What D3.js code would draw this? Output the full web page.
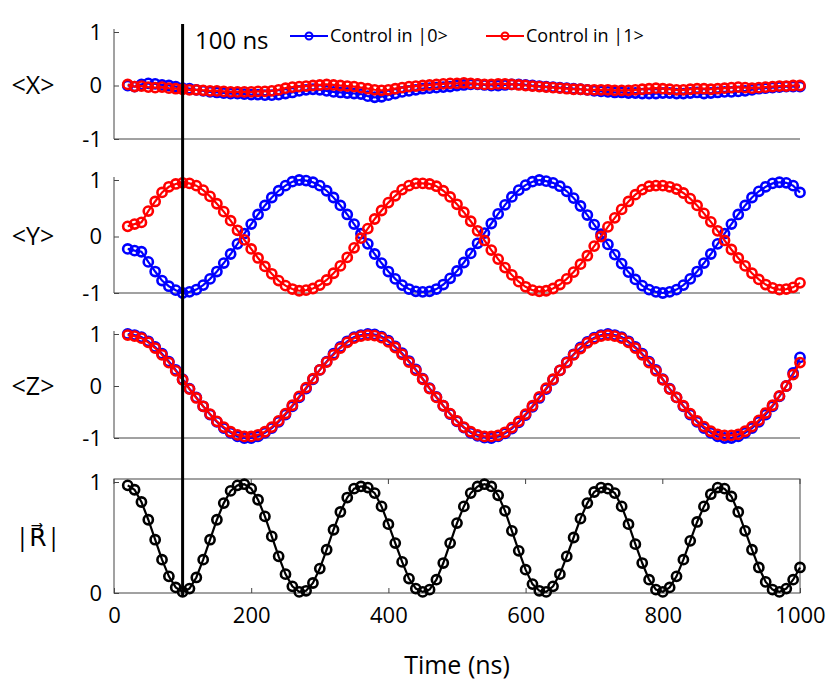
<!DOCTYPE html>
<html><head><meta charset="utf-8">
<script src="https://cdn.jsdelivr.net/npm/d3@7"></script>
<style>body{margin:0;background:#fff}text{font-family:"Open Sans","DejaVu Sans",sans-serif}</style>
</head><body><svg id="c" width="831" height="690"></svg>
<script>
const times = d3.range(20, 1001, 10);
const xBlue = [0,-0.02,0.02,0.04,0.03,0.01,0,-0.02,-0.05,-0.06,-0.08,-0.1,-0.12,-0.13,-0.14,-0.15,-0.15,-0.16,-0.17,-0.17,-0.18,-0.18,-0.17,-0.15,-0.13,-0.1,-0.08,-0.07,-0.08,-0.1,-0.12,-0.13,-0.14,-0.15,-0.16,-0.2,-0.22,-0.21,-0.18,-0.15,-0.12,-0.1,-0.08,-0.06,-0.05,-0.04,-0.03,-0.02,0,0.01,0.02,0.02,0.01,0,0,0.01,0.02,0.02,0.01,0,-0.01,-0.02,-0.03,-0.04,-0.05,-0.06,-0.07,-0.08,-0.1,-0.11,-0.12,-0.13,-0.13,-0.14,-0.14,-0.15,-0.15,-0.15,-0.14,-0.14,-0.15,-0.15,-0.14,-0.13,-0.15,-0.14,-0.13,-0.12,-0.12,-0.11,-0.1,-0.08,-0.06,-0.05,-0.04,-0.03,-0.02,-0.02,-0.02];
const xRed = [0.02,-0.02,-0.01,-0.03,-0.04,-0.03,-0.05,-0.06,-0.07,-0.08,-0.08,-0.09,-0.1,-0.1,-0.11,-0.12,-0.12,-0.12,-0.12,-0.11,-0.11,-0.1,-0.08,-0.05,-0.03,-0.02,-0.01,0,0.01,0.02,0.01,0,-0.01,-0.02,-0.04,-0.06,-0.08,-0.09,-0.08,-0.06,-0.04,-0.02,-0.01,0,0.01,0.02,0.03,0.04,0.04,0.05,0.04,0.03,0.02,0.02,0.03,0.03,0.02,0.01,0,-0.01,-0.02,-0.03,-0.04,-0.05,-0.06,-0.07,-0.07,-0.08,-0.08,-0.08,-0.08,-0.09,-0.09,-0.09,-0.08,-0.07,-0.06,-0.05,-0.06,-0.07,-0.08,-0.08,-0.07,-0.06,-0.06,-0.07,-0.06,-0.05,-0.04,-0.03,-0.04,-0.05,-0.04,-0.03,-0.02,-0.01,-0.01,0,0];
const yBlue = [-0.22,-0.25,-0.27,-0.45,-0.62,-0.78,-0.88,-0.95,
-1,-0.98,-0.94,-0.86,-0.75,-0.62,-0.47,-0.31,-0.13,0.05,0.22,0.39,0.55,0.69,0.81,0.9,0.97,1,0.99,0.96,0.9,0.81,0.69,0.55,0.39,0.22,0.05,-0.13,-0.31,-0.47,-0.62,-0.75,-0.86,-0.93,-0.97,
-0.98,-0.97,-0.93,-0.85,-0.74,-0.61,-0.46,-0.3,-0.12,0.06,0.23,0.4,0.56,0.7,0.82,0.91,0.97,1,0.98,0.95,0.89,0.8,0.68,0.54,0.38,0.21,0.04,-0.14,-0.32,-0.48,-0.63,-0.76,-0.87,-0.94,-0.98,
-1,-0.98,-0.94,-0.86,-0.75,-0.62,-0.47,-0.31,-0.13,0.05,0.22,0.39,0.55,0.69,0.8,0.88,0.94,0.96,0.95,0.9,0.78];
const yRed = [0.18,0.22,0.25,0.45,0.62,0.78,0.88,0.93,
0.95,0.94,0.9,0.82,0.71,0.58,0.44,0.28,0.11,-0.06,-0.22,-0.38,-0.53,-0.66,-0.78,-0.87,-0.93,-0.96,-0.95,-0.92,-0.86,-0.77,-0.65,-0.52,-0.37,-0.2,-0.03,0.14,0.31,0.46,0.6,0.72,0.83,0.9,0.94,
0.94,0.93,0.89,0.81,0.7,0.57,0.43,0.27,0.1,-0.07,-0.24,-0.4,-0.55,-0.68,-0.8,-0.89,-0.95,-0.97,-0.96,-0.92,-0.85,-0.75,-0.63,-0.49,-0.34,-0.17,0,0.17,0.33,0.48,0.62,0.74,0.83,0.89,0.9,
0.9,0.88,0.84,0.77,0.67,0.55,0.41,0.26,0.1,-0.07,-0.23,-0.38,-0.52,-0.65,-0.76,-0.85,-0.91,-0.94,-0.93,-0.9,-0.82];
const zBlue = [1,0.98,0.94,0.86,0.75,0.62,0.47,0.31,0.13,-0.05,-0.22,-0.39,-0.55,-0.69,-0.81,-0.9,-0.97,-1,-1,-0.97,-0.9,-0.81,-0.69,-0.55,-0.39,-0.22,-0.05,0.13,0.31,0.47,0.62,0.75,0.86,0.94,0.98,
1,0.99,0.95,0.87,0.76,0.63,0.48,0.32,0.14,-0.04,-0.21,-0.38,-0.54,-0.68,-0.8,-0.9,-0.96,-0.99,-1,-0.97,-0.91,-0.82,-0.7,-0.56,-0.4,-0.23,-0.06,0.12,0.3,0.46,0.61,0.74,0.85,0.93,0.98,
1,0.98,0.94,0.86,0.75,0.62,0.47,0.31,0.13,-0.05,-0.22,-0.39,-0.55,-0.69,-0.81,-0.9,-0.97,-1,-1,-0.97,-0.9,-0.81,-0.69,-0.55,-0.39,-0.2,0.0,0.25,0.55];
const zRed = [0.98,0.96,0.92,0.84,0.73,0.6,0.45,0.29,0.12,-0.06,-0.23,-0.39,-0.54,-0.68,-0.79,-0.88,-0.94,-0.97,-0.97,-0.94,-0.88,-0.79,-0.67,-0.53,-0.37,-0.2,-0.03,0.14,0.31,0.46,0.6,0.73,0.84,0.92,0.96,
0.98,0.97,0.93,0.85,0.74,0.61,0.46,0.3,0.13,-0.05,-0.22,-0.38,-0.53,-0.67,-0.79,-0.88,-0.94,-0.97,-0.97,-0.95,-0.89,-0.8,-0.68,-0.54,-0.38,-0.21,-0.04,0.13,0.3,0.45,0.6,0.72,0.83,0.91,0.96,
0.98,0.96,0.92,0.84,0.73,0.6,0.45,0.29,0.12,-0.06,-0.22,-0.38,-0.53,-0.67,-0.78,-0.87,-0.93,-0.95,-0.95,-0.93,-0.87,-0.78,-0.66,-0.52,-0.37,-0.19,0.0,0.22,0.45];
const rVals = [0.97,0.93,0.82,0.66,0.48,0.3,0.15,0.05,0.01,
0.04,0.14,0.3,0.48,0.66,0.81,0.92,0.97,0.98,
0.94,0.84,0.69,0.51,0.33,0.17,0.06,0.01,0.02,
0.09,0.22,0.39,0.57,0.73,0.86,0.94,0.96,0.95,
0.9,0.78,0.62,0.45,0.28,0.13,0.04,0.01,0.03,
0.12,0.27,0.45,0.63,0.78,0.9,0.96,0.98,0.96,
0.88,0.74,0.56,0.38,0.21,0.08,0.02,0.01,0.06,
0.17,0.33,0.5,0.67,0.81,0.91,0.95,0.94,0.9,
0.78,0.62,0.44,0.27,0.12,0.03,0.01,0.05,0.15,
0.3,0.47,0.64,0.78,0.89,0.95,0.94,0.87,0.73,
0.56,0.39,0.23,0.1,0.03,0.01,0.04,0.12,0.23];
const xTicks = [0,200,400,600,800,1000];
const legendLabels = ["Control in |0>","Control in |1>"];
const panelLabels = ["<X>","<Y>","<Z>"];

const svg = d3.select("#c");
const x = d3.scaleLinear().domain([0,1000]).range([114,800]);
const fmt = d => String(d);
const panels = [
 {top:139, hi:32, b:xBlue, r:xRed},
 {top:293, hi:180, b:yBlue, r:yRed},
 {top:438, hi:334, b:zBlue, r:zRed}];
function series(g, y, vals, col){
  const pts = vals.map((v,i)=>[times[i],v]);
  g.append("path").datum(pts).attr("fill","none").attr("stroke",col).attr("stroke-width",2.2)
   .attr("d", d3.line().x(d=>x(d[0])).y(d=>y(d[1])));
  g.selectAll(null).data(pts).join("circle").attr("cx",d=>x(d[0])).attr("cy",d=>y(d[1]))
   .attr("r",4.6).attr("fill","none").attr("stroke",col).attr("stroke-width",2.6);
}
panels.forEach((p,i)=>{
  const y = d3.scaleLinear().domain([-1,1]).range([p.top,p.hi]);
  const g = svg.append("g");
  const ax = g.append("g").attr("transform","translate(114,0)")
    .call(d3.axisLeft(y).tickValues([-1,0,1]).tickSize(-5).tickPadding(12).tickFormat(fmt));
  ax.select(".domain").attr("d",`M0,${p.hi-3}H0V${p.top}`).attr("stroke","#444");
  ax.selectAll("text").attr("font-size",22).attr("fill","#000");
  ax.selectAll("line").attr("stroke","#444");
  g.append("line").attr("x1",114).attr("x2",800).attr("y1",p.top).attr("y2",p.top).attr("stroke","#444");
  g.append("text").attr("x",33).attr("y",y(0)).attr("dy","0.35em").attr("text-anchor","middle")
   .attr("font-size",25).text(panelLabels[i]);
  series(g,y,p.b,"#0000ff");
  series(g,y,p.r,"#ff0000");
});
const yR = d3.scaleLinear().domain([0,1]).range([593,482]);
const gR = svg.append("g");
gR.append("rect").attr("x",114).attr("y",479).attr("width",686).attr("height",114).attr("fill","none").attr("stroke","#444");
const axR = gR.append("g").attr("transform","translate(114,0)")
  .call(d3.axisLeft(yR).tickValues([0,1]).tickSize(-5).tickPadding(12).tickFormat(fmt));
axR.select(".domain").remove();
axR.selectAll("text").attr("font-size",22);
axR.selectAll("line").attr("stroke","#444");
const axB = gR.append("g").attr("transform","translate(0,593)")
  .call(d3.axisBottom(x).tickValues(xTicks).tickSize(-5).tickPadding(14).tickFormat(fmt));
axB.select(".domain").remove();
axB.selectAll("text").attr("font-size",22);
axB.selectAll("line").attr("stroke","#444");
gR.append("g").selectAll("line").data(xTicks).join("line").attr("x1",d=>x(d)).attr("x2",d=>x(d))
  .attr("y1",479).attr("y2",484).attr("stroke","#444");
gR.append("text").attr("x",38).attr("y",yR(0.5)).attr("dy","0.35em").attr("text-anchor","middle")
  .attr("font-size",25).text("|R\u20D7|");
series(gR,yR,rVals,"#000");
svg.append("text").attr("x",457).attr("y",674).attr("text-anchor","middle").attr("font-size",25).text("Time (ns)");
svg.append("line").attr("x1",x(100)).attr("x2",x(100)).attr("y1",24).attr("y2",596).attr("stroke","#000").attr("stroke-width",3);
svg.append("text").attr("x",195).attr("y",49).attr("font-size",24).text("100 ns");
[["#0000ff",290],["#ff0000",486]].forEach((c,i)=>{
  svg.append("line").attr("x1",c[1]).attr("x2",c[1]+38).attr("y1",36).attr("y2",36).attr("stroke",c[0]).attr("stroke-width",2);
  svg.append("circle").attr("cx",c[1]+19).attr("cy",36).attr("r",3.5).attr("fill","none").attr("stroke",c[0]).attr("stroke-width",2);
  svg.append("text").attr("x",c[1]+40).attr("y",42).attr("font-size",18).text(legendLabels[i]);
});
</script></body></html>
